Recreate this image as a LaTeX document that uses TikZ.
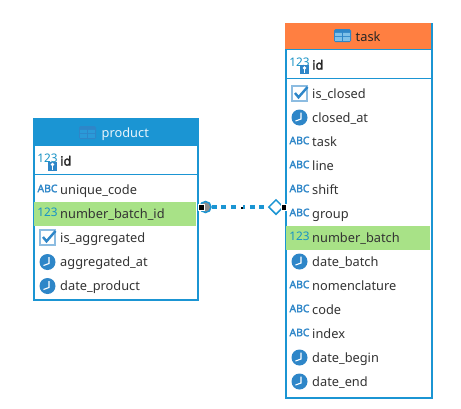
\documentclass[tikz,border=0pt]{standalone}
\usepackage{fontspec}
\setmainfont{Noto Sans}
\newfontfamily\fakeb[FakeBold=2.2]{Noto Sans}
\usetikzlibrary{shapes.geometric}
\definecolor{edge}{HTML}{1B95D3}
\definecolor{iconb}{HTML}{2E86C8}
\definecolor{headb}{HTML}{1B95D3}
\definecolor{heado}{HTML}{FF7F41}
\definecolor{rowg}{HTML}{A8E287}
\definecolor{txt}{HTML}{333333}
\definecolor{iconline}{HTML}{7FC0E8}
\definecolor{iconpane}{HTML}{2A9AD8}
\tikzset{
  x=1pt,y=-1pt,
  tablebox/.style={draw=edge,line width=2.3pt,fill=white,inner sep=0pt,minimum width=0pt},
  headtext/.style={font=\fontsize{12.8}{14}\selectfont,anchor=west,inner sep=0pt,text height=10pt,text depth=0pt},
  rowtext/.style={font=\fontsize{12.8}{14}\selectfont,text=txt,anchor=west,inner sep=0pt,text height=10.2pt,text depth=0pt},
  idtext/.style={font=\fakeb\fontsize{12.8}{14}\selectfont,text=black!85,anchor=west,inner sep=0pt,text height=10.2pt,text depth=0pt},
  rule/.style={draw=edge,line width=1pt},
  abcicon/.style={font=\fakeb\fontsize{10.4}{11}\selectfont,text=iconb,inner sep=0pt},
  numicon/.style={font=\fontsize{11.8}{13}\selectfont,text=edge!85!teal,inner sep=0pt},
  link/.style={draw=edge,line width=4.8pt,dash pattern=on 5pt off 4.5pt},
  handle/.style={fill=black,draw=white,line width=0.5pt,minimum size=5.5pt,inner sep=0pt},
  pics/clock/.style={code={
    \fill[iconb] (0,0) circle (8);
    \draw[white,line width=1.1pt] (1.5,-5) -- (1.5,1.5) -- (-4,3.5);
  }},
  pics/check/.style={code={
    \draw[iconb!55,line width=1.6pt,fill=white] (-7.5,-7.5) rectangle (7.5,7.5);
    \draw[iconb,line width=2.4pt] (-4.5,-0.5) -- (-1,3.8) -- (8,-6.5);
  }},
  pics/tableicon/.style={code={
    \fill[iconb,rounded corners=1.5pt] (-8.5,-6.5) rectangle (8.5,6.5);
    \fill[#1] (-7.3,-2.6) rectangle (-0.6,0.4) (0.6,-2.6) rectangle (7.3,0.4)
      (-7.3,1.4) rectangle (-0.6,5.3) (0.6,1.4) rectangle (7.3,5.3);
  }},
  pics/keyicon/.style={code={
    \fill[iconb] (-4.5,-4.5) rectangle (4.5,4.5);
    \fill[white] (0,-1.5) circle (1.8);
    \draw[white,line width=1pt] (0,-1) -- (0,3.5);
  }},
}
\begin{document}
\begin{tikzpicture}
\useasboundingbox (0,0) rectangle (461,408);
% product
\node[tablebox,minimum width=164pt,minimum height=181pt,anchor=north west] (product) at (33,118) {};
\fill[headb] (33,118) rectangle (197,145);
\draw[rule] (33,145.5) -- (197,145.5) (33,174.5) -- (197,174.5);
\fill[rowg] (34,202) rectangle (196,226);
\pic at (87.5,132.5) {tableicon=iconpane};
\node[headtext,text=white!90!edge] (ph) at (101.5,132.5) {product};
\node[numicon] (pn0) at (47.5,158.5) {123};
\pic at (52.5,166) {keyicon};
\node[idtext] (p0) at (60,160.5) {id};
\node[abcicon] (pi1) at (47.5,188.5) {ABC};
\node[rowtext] (p1) at (60,189.5) {unique\_code};
\node[numicon] (pn2) at (47.5,212.5) {123};
\node[rowtext] (p2) at (60,213.5) {number\_batch\_id};
\pic at (47.5,237.5) {check};
\node[rowtext] (p3) at (60,237.5) {is\_aggregated};
\pic at (47.5,262) {clock};
\node[rowtext] (p4) at (60,261.5) {aggregated\_at};
\pic at (47.5,286) {clock};
\node[rowtext] (p5) at (60,285.5) {date\_product};
% task
\node[tablebox,minimum width=146pt,minimum height=374pt,anchor=north west] (task) at (285,23) {};
\fill[heado] (285,23) rectangle (431,49);
\draw[rule] (285,49.5) -- (431,49.5) (285,78.5) -- (431,78.5);
\fill[rowg] (286,226) rectangle (430,250);
\pic at (342.5,35.5) {tableicon=iconline};
\node[headtext,text=black!85] (th) at (355.5,36) {task};
\node[numicon] (tn0) at (299.5,62) {123};
\pic at (304.5,69.5) {keyicon};
\node[idtext] (t0) at (312,64.5) {id};
\pic at (299.5,93.5) {check};
\node[rowtext] (t1) at (312,93.5) {is\_closed};
\pic at (299.5,117.5) {clock};
\node[rowtext] (t2) at (312,117.5) {closed\_at};
\node[abcicon] (ti3) at (299.5,140.5) {ABC};
\node[rowtext] (t3) at (312,141.5) {task};
\node[abcicon] (ti4) at (299.5,164.5) {ABC};
\node[rowtext] (t4) at (312,165.5) {line};
\node[abcicon] (ti5) at (299.5,188.5) {ABC};
\node[rowtext] (t5) at (312,189.5) {shift};
\node[abcicon] (ti6) at (299.5,212.5) {ABC};
\node[rowtext] (t6) at (312,213.5) {group};
\node[numicon] (tn7) at (299.5,236.5) {123};
\node[rowtext] (t7) at (312,237.5) {number\_batch};
\pic at (299.5,261.5) {clock};
\node[rowtext] (t8) at (312,261.5) {date\_batch};
\node[abcicon] (ti9) at (299.5,284.5) {ABC};
\node[rowtext] (t9) at (312,285.5) {nomenclature};
\node[abcicon] (ti10) at (299.5,308.5) {ABC};
\node[rowtext] (t10) at (312,309.5) {code};
\node[abcicon] (ti11) at (299.5,332.5) {ABC};
\node[rowtext] (t11) at (312,333.5) {index};
\pic at (299.5,357.5) {clock};
\node[rowtext] (t12) at (312,357.5) {date\_begin};
\pic at (299.5,381.5) {clock};
\node[rowtext] (t13) at (312,381.5) {date\_end};
% connector
\node[circle,draw=edge,line width=1.5pt,fill=gray!90,minimum size=11pt,inner sep=0pt] (src) at (205.5,207) {};
\node[diamond,draw=edge,line width=1.5pt,fill=white,minimum width=15pt,minimum height=15pt,inner sep=0pt] (dst) at (276,207) {};
\draw[link] (src) -- (dst);
\node[handle] (hl) at (201,207) {};
\node[handle] (hr) at (283.5,207) {};
\node[fill=white,minimum size=4.5pt,inner sep=0pt] (hm) at (241.2,207.2) {};
\node[fill=black,minimum size=2.4pt,inner sep=0pt] (hn) at (241.7,207.7) {};
\end{tikzpicture}
\end{document}
